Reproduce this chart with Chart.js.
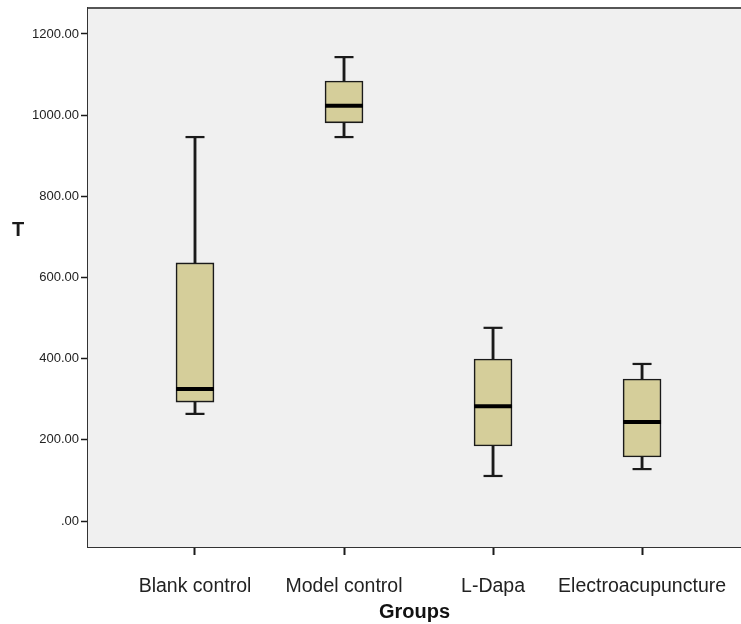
<!DOCTYPE html>
<html>
<head>
<meta charset="utf-8">
<script src="https://cdn.jsdelivr.net/npm/chart.js@4.4.0/dist/chart.umd.min.js"></script>
<style>
  html, body { margin: 0; padding: 0; background: #fff; }
  #wrap { width: 741px; height: 624px; }
</style>
</head>
<body>
<div id="wrap"><canvas id="chart" width="741" height="624"></canvas></div>
<script>
const GROUPS = ["Blank control", "Model control", "L-Dapa", "Electroacupuncture"];
const WHISKER_LOW = [264, 946, 111, 128];
const Q1 = [293, 981, 185, 158];
const MEDIAN = [325, 1023, 283, 244];
const Q3 = [636, 1084, 399, 350];
const WHISKER_HIGH = [946, 1143, 476, 387];
const Y_TICKS = [0, 200, 400, 600, 800, 1000, 1200];

const BOX_FILL = "#d5ce9a";
const INK = "#1a1a1a";
const FONT = "'Liberation Sans', Arial, sans-serif";

const positions = GROUPS.map((_, i) => i + 1);

function floating(lows, highs) {
  return positions.map((x, i) => ({ x: x, y: [lows[i], highs[i]] }));
}

function points(values) {
  return positions.map((x, i) => ({ x: x, y: values[i] }));
}

const plotFrame = {
  id: "plotFrame",
  beforeDatasetsDraw(chart) {
    const { ctx, chartArea } = chart;
    ctx.save();
    ctx.fillStyle = "#f0f0f0";
    ctx.fillRect(chartArea.left, chartArea.top, chartArea.right - chartArea.left, chartArea.bottom - chartArea.top);
    ctx.restore();
  },
  afterDraw(chart) {
    const { ctx, chartArea } = chart;
    ctx.save();
    ctx.strokeStyle = "#555";
    ctx.lineWidth = 2;
    ctx.beginPath();
    ctx.moveTo(chartArea.left, chartArea.top);
    ctx.lineTo(chartArea.right, chartArea.top);
    ctx.stroke();

    ctx.fillStyle = INK;
    ctx.font = "bold 20px " + FONT;
    ctx.textAlign = "center";
    ctx.textBaseline = "middle";
    ctx.fillText("T", 18, 230);
    ctx.restore();
  },
};

new Chart(document.getElementById("chart"), {
  type: "bar",
  data: {
    datasets: [
      {
        type: "scatter",
        data: points(MEDIAN),
        pointStyle: "line",
        pointRadius: 19,
        pointHoverRadius: 19,
        borderWidth: 4,
        borderColor: "#000",
        order: 0,
      },
      {
        type: "scatter",
        data: points(WHISKER_LOW).concat(points(WHISKER_HIGH)),
        pointStyle: "line",
        pointRadius: 9.5,
        pointHoverRadius: 9.5,
        borderWidth: 2.2,
        borderColor: INK,
        order: 1,
      },
      {
        data: floating(Q1, Q3),
        backgroundColor: BOX_FILL,
        borderColor: INK,
        borderWidth: 1.6,
        borderSkipped: false,
        barThickness: 38,
        grouped: false,
        order: 2,
      },
      {
        data: floating(WHISKER_LOW, Q1),
        backgroundColor: INK,
        borderWidth: 0,
        barThickness: 2.2,
        grouped: false,
        order: 3,
      },
      {
        data: floating(Q3, WHISKER_HIGH),
        backgroundColor: INK,
        borderWidth: 0,
        barThickness: 2.2,
        grouped: false,
        order: 3,
      },
    ],
  },
  options: {
    responsive: false,
    animation: false,
    events: [],
    layout: { autoPadding: false, padding: { top: 8, right: 0, left: 0, bottom: 0 } },
    plugins: {
      legend: { display: false },
      tooltip: { enabled: false },
    },
    scales: {
      x: {
        type: "linear",
        offset: false,
        min: 0.282,
        max: 4.664,
        afterBuildTicks(scale) {
          scale.ticks = positions.map((v) => ({ value: v }));
        },
        afterFit(scale) {
          // plot area runs to the right edge of the picture
          scale.height = 624 - 547;
          scale.paddingLeft = 0;
          scale.paddingRight = 0;
        },
        grid: {
          offset: false,
          drawOnChartArea: false,
          drawTicks: true,
          tickLength: 8,
          tickColor: INK,
          tickWidth: 2,
        },
        border: { display: true, color: "#333", width: 2 },
        ticks: {
          padding: 20,
          color: "#222",
          font: { family: FONT, size: 19.5 },
          maxRotation: 0,
          autoSkip: false,
          callback: (value) => GROUPS[value - 1] || "",
        },
        title: {
          display: true,
          text: "Groups",
          color: "#111",
          font: { family: FONT, size: 20, weight: "bold" },
          padding: { top: 0, bottom: 0 },
        },
      },
      y: {
        type: "linear",
        min: -64,
        max: 1264,
        afterBuildTicks(scale) {
          scale.ticks = Y_TICKS.map((v) => ({ value: v }));
        },
        afterFit(scale) {
          scale.width = 88;
          scale.paddingTop = 0;
          scale.paddingBottom = 0;
        },
        grid: {
          drawOnChartArea: false,
          drawTicks: true,
          tickLength: 7,
          tickColor: INK,
          tickWidth: 1.5,
        },
        border: { display: true, color: "#333", width: 2 },
        ticks: {
          padding: 2,
          color: "#222",
          font: { family: FONT, size: 13 },
          callback: (value) => (value === 0 ? ".00" : value.toFixed(2)),
        },
      },
    },
  },
  plugins: [plotFrame],
});
</script>
</body>
</html>
